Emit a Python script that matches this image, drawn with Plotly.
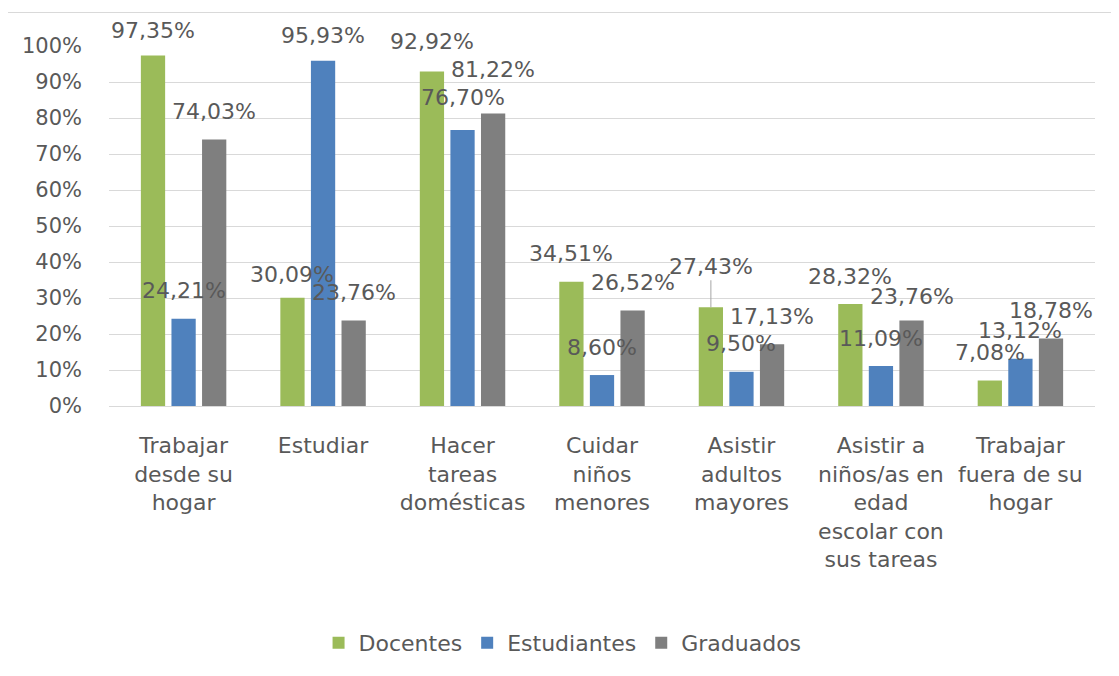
import plotly.graph_objects as go

# ---- data ----
categories = [
    "Trabajar desde su hogar",
    "Estudiar",
    "Hacer tareas domésticas",
    "Cuidar niños menores",
    "Asistir adultos mayores",
    "Asistir a niños/as en edad escolar con sus tareas",
    "Trabajar fuera de su hogar",
]
tick_labels = [
    "Trabajar<br>desde su<br>hogar",
    "Estudiar",
    "Hacer<br>tareas<br>domésticas",
    "Cuidar<br>niños<br>menores",
    "Asistir<br>adultos<br>mayores",
    "Asistir a<br>niños/as en<br>edad<br>escolar con<br>sus tareas",
    "Trabajar<br>fuera de su<br>hogar",
]
series_names = ["Docentes", "Estudiantes", "Graduados"]
docentes = [97.35, 30.09, 92.92, 34.51, 27.43, 28.32, 7.08]
estudiantes = [24.21, 95.93, 76.70, 8.60, 9.50, 11.09, 13.12]
graduados = [74.03, 23.76, 81.22, 26.52, 17.13, 23.76, 18.78]
y_ticks = list(range(0, 101, 10))

# ---- style ----
colors = ["#9BBB59", "#4F81BD", "#7F7F7F"]
text_color = "#595959"
grid_color = "#D9D9D9"
FONT = "DejaVu Sans"
bargap = 0.342
bargroupgap = 0.207
default_shift = 28
# hand-placed labels in the original (series index, category index) -> vertical shift in px
shift_overrides = {(0, 0): 25, (1, 1): 25, (0, 1): 23, (0, 2): 30, (2, 2): 44,
                   (1, 2): 32, (2, 5): 24}
leader_labels = {(0, 4): 41}

series = [docentes, estudiantes, graduados]

fig = go.Figure()
for name, vals, col in zip(series_names, series, colors):
    fig.add_trace(go.Bar(x=categories, y=vals, name=name, marker_color=col,
                         marker_line_width=0))

annotations = []
slot = (1 - bargap) / 3
for j, vals in enumerate(series):
    for i, v in enumerate(vals):
        txt = f"{v:.2f}".replace(".", ",") + "%"
        xpos = i + (j - 1) * slot
        if (j, i) in leader_labels:
            annotations.append(dict(
                x=xpos, y=v, xref="x", yref="y", text=txt, showarrow=True,
                arrowhead=0, arrowwidth=1, arrowcolor="#A6A6A6",
                ax=0, ay=-leader_labels[(j, i)],
                font=dict(family=FONT, size=22, color=text_color)))
        else:
            annotations.append(dict(
                x=xpos, y=v, xref="x", yref="y", text=txt, showarrow=False,
                yanchor="middle", xanchor="center",
                yshift=shift_overrides.get((j, i), default_shift),
                font=dict(family=FONT, size=22, color=text_color)))

fig.update_layout(
    width=1111, height=668,
    barmode="group", bargap=bargap, bargroupgap=bargroupgap,
    plot_bgcolor="white", paper_bgcolor="white",
    margin=dict(l=100.5, r=24, t=37.6, b=270, pad=0),
    font=dict(family=FONT, size=22, color=text_color),
    showlegend=True,
    legend=dict(orientation="h", x=0.46, xanchor="center", y=-0.658,
                yanchor="middle", font=dict(family=FONT, size=22, color=text_color),
                itemclick=False),
    annotations=annotations,
    shapes=[dict(type="line", xref="paper", yref="paper", x0=-0.103, x1=1.03,
                 y0=1.093, y1=1.093, line=dict(color=grid_color, width=1))],
)
fig.update_xaxes(
    type="category", tickmode="array", tickvals=categories, ticktext=tick_labels,
    showgrid=False, showline=False, ticks="", ticklabelstandoff=24,
    tickfont=dict(family=FONT, size=22, color=text_color), tickangle=0,
)
fig.update_yaxes(
    range=[0, 100], tickmode="array", tickvals=y_ticks,
    ticktext=[f"{t}%" for t in y_ticks],
    showgrid=True, gridcolor=grid_color, gridwidth=1,
    zeroline=True, zerolinecolor=grid_color, zerolinewidth=1,
    showline=False, ticks="", ticklabelstandoff=26,
    tickfont=dict(family=FONT, size=21, color=text_color),
)

fig.write_html("out.html")
